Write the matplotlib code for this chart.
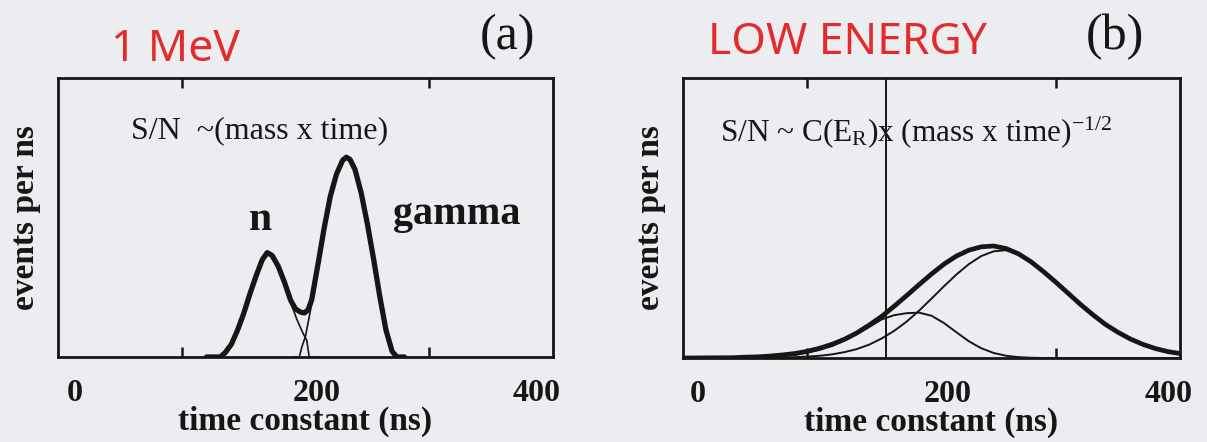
import matplotlib
matplotlib.use("Agg")
import matplotlib.pyplot as plt
from matplotlib.transforms import ScaledTranslation

# ---------------- panel (a): 1 MeV recoils ----------------
a_n_time = [125, 131, 135, 140, 145, 150, 155, 160, 165, 169, 173, 178, 183, 188,
            193, 198, 201, 203, 210]
a_n_rate = [0, 0, 0.015, 0.045, 0.095, 0.155, 0.225, 0.29, 0.348, 0.374, 0.364,
            0.325, 0.265, 0.195, 0.135, 0.085, 0.06, 0, 0]

a_gamma_time = [190, 195, 197, 200, 205, 210, 215, 220, 225, 230, 233, 236, 240,
                245, 250, 255, 260, 265, 270, 273, 280]
a_gamma_rate = [0, 0, 0.035, 0.075, 0.19, 0.33, 0.46, 0.575, 0.655, 0.705, 0.716,
                0.708, 0.672, 0.588, 0.477, 0.352, 0.218, 0.097, 0.02, 0, 0]

a_total_time = [120, 131, 135, 140, 145, 150, 155, 160, 165, 169, 173, 178, 183,
                188, 192, 196, 199, 202, 205, 210, 215, 220, 225, 230, 233, 236,
                240, 245, 250, 255, 260, 265, 270, 274, 280]
a_total_rate = [0, 0, 0.015, 0.045, 0.095, 0.155, 0.225, 0.29, 0.348, 0.374, 0.364,
                0.325, 0.268, 0.203, 0.172, 0.161, 0.158, 0.168, 0.205, 0.33, 0.46,
                0.575, 0.655, 0.705, 0.716, 0.708, 0.672, 0.588, 0.477, 0.352,
                0.218, 0.097, 0.02, 0, 0]

# ---------------- panel (b): low energy ----------------
b_time = [0, 40, 50, 60, 70, 80, 90, 100, 110, 120, 130, 140, 150, 160, 170, 180,
          190, 200, 210, 220, 230, 240, 250, 260, 270, 280, 290, 300, 310, 320,
          330, 340, 350, 360, 370, 380, 390, 400]
b_total = [0, 0.001, 0.003, 0.004, 0.007, 0.011, 0.016, 0.024, 0.035, 0.049, 0.067,
           0.090, 0.118, 0.149, 0.185, 0.223, 0.262, 0.300, 0.335, 0.364, 0.385,
           0.397, 0.400, 0.391, 0.372, 0.344, 0.309, 0.271, 0.231, 0.191, 0.154,
           0.120, 0.092, 0.068, 0.049, 0.034, 0.023, 0.016]
b_gamma = [0, 0, 0, 0, 0.001, 0.001, 0.003, 0.005, 0.008, 0.013, 0.021, 0.032,
           0.048, 0.070, 0.097, 0.130, 0.169, 0.212, 0.256, 0.298, 0.335, 0.364,
           0.381, 0.385, 0.370, 0.343, 0.308, 0.270, 0.230, 0.190, 0.153, 0.119,
           0.091, 0.067, 0.048, 0.033, 0.022, 0.015]
b_n = [0, 0, 0, 0.001, 0.003, 0.006, 0.011, 0.019, 0.029, 0.043, 0.062, 0.085,
       0.111, 0.138, 0.153, 0.160, 0.162, 0.151, 0.125, 0.092, 0.060, 0.035, 0.018,
       0.008, 0.003, 0.001, 0, 0, 0, 0, 0, 0, 0, 0, 0, 0, 0, 0]
b_cut = 163

x_ticklabels = ["0", "200", "400"]
x_ticklabel_pos = [0, 200, 400]
inner_ticks = [100, 200, 300]

# ---------------- figure ----------------
BG = "#ecedf1"
INK = "#161616"
RED = "#e42b2b"
W, H = 1207, 442

plt.rcParams["font.family"] = ["Liberation Serif", "DejaVu Serif"]
plt.rcParams["mathtext.fontset"] = "custom"
plt.rcParams["mathtext.rm"] = "Liberation Serif"
plt.rcParams["mathtext.it"] = "Liberation Serif:italic"
plt.rcParams["mathtext.bf"] = "Liberation Serif:bold"

fig = plt.figure(figsize=(W / 100, H / 100), dpi=100, facecolor=BG)
ax_a = fig.add_axes([58 / W, 1 - 357 / H, 495 / W, 279 / H])
ax_b = fig.add_axes([683 / W, 1 - 358 / H, 497 / W, 280 / H])

label_shift = {ax_a: [17, 11, -16], ax_b: [15, 16, -11]}

for ax in (ax_a, ax_b):
    ax.set_facecolor(BG)
    ax.set_xlim(0, 400)
    ax.set_ylim(0, 1)
    for sp in ax.spines.values():
        sp.set_linewidth(2.0)
        sp.set_color(INK)
    ax.set_xticks(x_ticklabel_pos)
    ax.set_xticklabels(x_ticklabels, fontsize=23, fontweight="bold", color=INK)
    ax.set_xticks(inner_ticks, minor=True)
    ax.tick_params(axis="x", which="major", length=0, pad=16)
    ax.tick_params(axis="x", which="minor", direction="in", length=7, width=1.8,
                   top=True, bottom=True, color=INK)
    ax.set_yticks([])
    ax.set_xlabel("time constant (ns)", fontsize=24, fontweight="bold", color=INK,
                  labelpad=-2)
    ax.set_ylabel("events per ns", fontsize=24, fontweight="bold", color=INK,
                  labelpad=12)
    for lab, dx in zip(ax.get_xticklabels(), label_shift[ax]):
        lab.set_transform(lab.get_transform()
                          + ScaledTranslation(dx / 100, 0, fig.dpi_scale_trans))

# panel (a) curves
ax_a.plot(a_n_time, a_n_rate, color=INK, lw=1.2, solid_capstyle="round")
ax_a.plot(a_gamma_time, a_gamma_rate, color=INK, lw=1.2, solid_capstyle="round")
ax_a.plot(a_total_time, a_total_rate, color=INK, lw=3.8, solid_joinstyle="round",
          solid_capstyle="round")
ax_a.text(0.147, 0.81, "S/N  ~(mass x time)", transform=ax_a.transAxes,
          fontsize=23, color=INK, va="center", ha="left")
ax_a.text(0.408, 0.49, "n", transform=ax_a.transAxes, fontsize=30,
          fontweight="bold", color=INK, va="center", ha="center")
ax_a.text(0.805, 0.51, "gamma", transform=ax_a.transAxes, fontsize=29,
          fontweight="bold", color=INK, va="center", ha="center")

# panel (b) curves
ax_b.axvline(b_cut, color=INK, lw=1.4)
ax_b.plot(b_time, b_gamma, color=INK, lw=1.4)
ax_b.plot(b_time, b_n, color=INK, lw=1.4)
ax_b.plot(b_time, b_total, color=INK, lw=3.4, solid_joinstyle="round")
ax_b.text(0.075, 0.805,
          r"S/N ~ C(E$_{\mathrm{R}}$)x (mass x time)$^{\mathrm{-1/2}}$",
          transform=ax_b.transAxes, fontsize=22.5, color=INK, va="center",
          ha="left")

# panel tags and handwritten notes
fig.text(507 / W, 1 - 37 / H, "(a)", fontsize=36, color=INK, ha="center",
         va="center")
fig.text(1115 / W, 1 - 37 / H, "(b)", fontsize=36, color=INK, ha="center",
         va="center")
fig.text(175 / W, 1 - 50 / H, "1 MeV", fontsize=32, color=RED, ha="center",
         va="center", family=["Noto Sans", "DejaVu Sans"])
fig.text(848 / W, 1 - 43 / H, "LOW ENERGY", fontsize=32, color=RED, ha="center",
         va="center", family=["Noto Sans", "DejaVu Sans"])

fig.savefig("out.png", dpi=100, facecolor=BG)
